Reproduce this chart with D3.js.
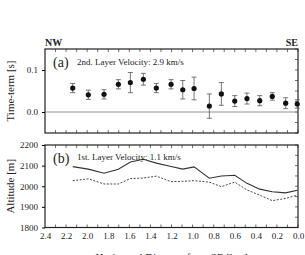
<!DOCTYPE html>
<html>
<head>
<meta charset="utf-8">
<script src="https://cdn.jsdelivr.net/npm/d3@7"></script>
<style>
  body { margin: 0; background: #fff; }
  svg { display: block; }
  text { font-family: "Liberation Serif", "DejaVu Serif", serif; fill: #222; }
</style>
</head>
<body>
<div id="chart"></div>
<script>
// station distances from SE end [km]
const distances = [2.137, 1.989, 1.840, 1.704, 1.590, 1.467, 1.344, 1.204, 1.093, 0.986, 0.841, 0.727, 0.600, 0.484, 0.363, 0.244, 0.117, 0.007];
// panel (a) time-terms [s] and their errors
const timeTerms = [0.057, 0.041, 0.042, 0.066, 0.070, 0.078, 0.057, 0.066, 0.053, 0.056, 0.014, 0.043, 0.026, 0.032, 0.027, 0.037, 0.021, 0.019];
const timeErrors = [0.011, 0.011, 0.011, 0.011, 0.024, 0.014, 0.011, 0.011, 0.022, 0.027, 0.029, 0.027, 0.013, 0.013, 0.012, 0.009, 0.013, 0.010];
// panel (b) altitudes [m]
const surfaceAlt = [2095, 2083, 2063, 2082, 2118, 2131, 2112, 2096, 2083, 2094, 2039, 2050, 2053, 2014, 1986, 1973, 1968, 1981];
const layerAlt = [2027, 2036, 2011, 2011, 2037, 2040, 2049, 2022, 2024, 2027, 2020, 1998, 2020, 1982, 1957, 1930, 1941, 1957];

const xTicks = [2.4, 2.2, 2.0, 1.8, 1.6, 1.4, 1.2, 1.0, 0.8, 0.6, 0.4, 0.2, 0.0];
const timeTicks = [0.0, 0.1];
const altTicks = [1800, 1900, 2000, 2100, 2200];

const width = 305, height = 255;
const left = 45, right = 298;
const panelA = {top: 49, bottom: 133};
const panelB = {top: 145, bottom: 227.5};

const svg = d3.select("#chart").append("svg")
    .attr("width", width)
    .attr("height", height);

const x = d3.scaleLinear().domain([2.4, 0]).range([left, right]);
const yA = d3.scaleLinear().domain([-0.05, 0.15]).range([panelA.bottom, panelA.top]);
const yB = d3.scaleLinear().domain([1800, 2200]).range([panelB.bottom, panelB.top]);

const minorX = d3.range(0, 24).map(i => i / 10);

function drawFrame(p, y, minorY) {
    const g = svg.append("g");
    // inward ticks top/bottom
    g.selectAll(".tx")
        .data(minorX)
        .join("line")
            .attr("x1", d => x(d)).attr("x2", d => x(d))
            .attr("y1", p.top).attr("y2", p.top + 3)
            .attr("stroke", "#333").attr("stroke-width", 0.7);
    g.selectAll(".bx")
        .data(minorX)
        .join("line")
            .attr("x1", d => x(d)).attr("x2", d => x(d))
            .attr("y1", p.bottom).attr("y2", p.bottom - 3)
            .attr("stroke", "#333").attr("stroke-width", 0.7);
    // right inward ticks
    g.selectAll(".ry")
        .data(minorY)
        .join("line")
            .attr("x1", right).attr("x2", right - 3)
            .attr("y1", d => y(d)).attr("y2", d => y(d))
            .attr("stroke", "#333").attr("stroke-width", 0.7);
    g.append("rect")
        .attr("x", left).attr("y", p.top)
        .attr("width", right - left).attr("height", p.bottom - p.top)
        .attr("fill", "none").attr("stroke", "#222").attr("stroke-width", 1.2);
    return g;
}

// ---- panel (a)
drawFrame(panelA, yA, d3.range(-0.05, 0.151, 0.025));

svg.append("line")
    .attr("x1", left).attr("x2", right)
    .attr("y1", yA(0)).attr("y2", yA(0))
    .attr("stroke", "#777").attr("stroke-width", 0.8);

const axA = svg.append("g")
    .attr("transform", "translate(" + left + ",0)")
    .call(d3.axisLeft(yA).tickValues(timeTicks).tickFormat(d3.format(".1f")).tickSize(3));
axA.select(".domain").remove();
axA.selectAll("text").style("font-size", "9px").attr("dx", "-1");

const pts = distances.map((d, i) => ({x: d, v: timeTerms[i], e: timeErrors[i]}));
const bars = svg.append("g").selectAll(".err")
    .data(pts)
    .join("g");
bars.append("line")
    .attr("x1", d => x(d.x)).attr("x2", d => x(d.x))
    .attr("y1", d => yA(d.v - d.e)).attr("y2", d => yA(d.v + d.e))
    .attr("stroke", "#555").attr("stroke-width", 0.8);
[-1, 1].forEach(s => {
    bars.append("line")
        .attr("x1", d => x(d.x) - 2.5).attr("x2", d => x(d.x) + 2.5)
        .attr("y1", d => yA(d.v + s * d.e)).attr("y2", d => yA(d.v + s * d.e))
        .attr("stroke", "#555").attr("stroke-width", 0.8);
});
bars.append("circle")
    .attr("cx", d => x(d.x)).attr("cy", d => yA(d.v))
    .attr("r", 2.6)
    .attr("fill", "#111");

svg.append("text").attr("x", 53).attr("y", 67)
    .style("font-size", "14px").text("(a)");
svg.append("text").attr("x", 77).attr("y", 65)
    .style("font-size", "9px").text("2nd. Layer Velocity: 2.9 km/s");
svg.append("text").attr("x", 45).attr("y", 46)
    .style("font-size", "10px").style("font-weight", "bold").text("NW");
svg.append("text").attr("x", 298).attr("y", 46)
    .style("font-size", "10px").style("font-weight", "bold")
    .style("text-anchor", "end").text("SE");
svg.append("text")
    .attr("transform", "translate(14," + (panelA.top + panelA.bottom) / 2 + ") rotate(-90)")
    .style("font-size", "11px").style("text-anchor", "middle")
    .text("Time-term [s]");

// ---- panel (b)
drawFrame(panelB, yB, d3.range(1800, 2201, 50));

const axB = svg.append("g")
    .attr("transform", "translate(" + left + ",0)")
    .call(d3.axisLeft(yB).tickValues(altTicks).tickFormat(d3.format("d")).tickSize(3));
axB.select(".domain").remove();
axB.selectAll("text").style("font-size", "9px").attr("dx", "-1");

const axX = svg.append("g")
    .attr("transform", "translate(0," + panelB.bottom + ")")
    .call(d3.axisBottom(x).tickValues(xTicks).tickFormat(d3.format(".1f")).tickSize(0));
axX.select(".domain").remove();
axX.selectAll("text").style("font-size", "9px").attr("dy", "0.9em");

const line = d3.line()
    .x((d, i) => x(distances[i]))
    .y(d => yB(d));
svg.append("path")
    .datum(surfaceAlt)
    .attr("d", line)
    .attr("fill", "none").attr("stroke", "#333").attr("stroke-width", 1.1);
svg.append("path")
    .datum(layerAlt)
    .attr("d", line)
    .attr("fill", "none").attr("stroke", "#333").attr("stroke-width", 0.9)
    .attr("stroke-dasharray", "2,1.5");

svg.append("text").attr("x", 53).attr("y", 163)
    .style("font-size", "14px").text("(b)");
svg.append("text").attr("x", 77).attr("y", 160)
    .style("font-size", "9px").text("1st. Layer Velocity: 1.1 km/s");
svg.append("text")
    .attr("transform", "translate(14," + (panelB.top + panelB.bottom) / 2 + ") rotate(-90)")
    .style("font-size", "11px").style("text-anchor", "middle")
    .text("Altitude [m]");

svg.append("text").attr("x", (left + right) / 2).attr("y", 261)
    .style("font-size", "11px").style("text-anchor", "middle")
    .text("Horizontal Distance from SE [km]");
</script>
</body>
</html>
